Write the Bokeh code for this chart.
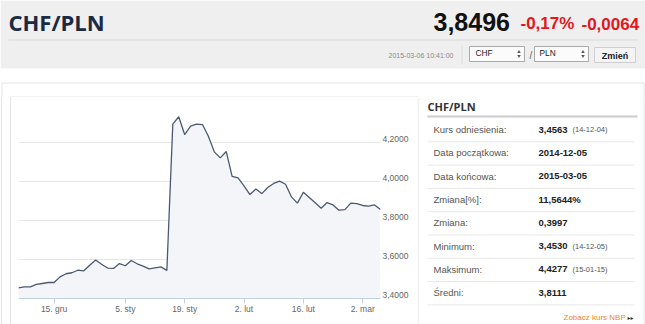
from bokeh.plotting import figure
from bokeh.layouts import column, row
from bokeh.models import (Range1d, LinearAxis, FixedTicker, Grid, Spacer,
                          CustomJSTickFormatter, ColumnDataSource)
from bokeh.core.properties import value
from bokeh.embed import file_html
from bokeh.resources import INLINE

# ---------------- data ----------------
dates = [
    "2014-12-05", "2014-12-08", "2014-12-09", "2014-12-10", "2014-12-11", "2014-12-12",
    "2014-12-15", "2014-12-16", "2014-12-17", "2014-12-18", "2014-12-19",
    "2014-12-22", "2014-12-23", "2014-12-24", "2014-12-29", "2014-12-30", "2014-12-31",
    "2015-01-02", "2015-01-05", "2015-01-06", "2015-01-07", "2015-01-08", "2015-01-09",
    "2015-01-12", "2015-01-13", "2015-01-14", "2015-01-15", "2015-01-16",
    "2015-01-19", "2015-01-20", "2015-01-21", "2015-01-22", "2015-01-23",
    "2015-01-26", "2015-01-27", "2015-01-28", "2015-01-29", "2015-01-30",
    "2015-02-02", "2015-02-03", "2015-02-04", "2015-02-05", "2015-02-06",
    "2015-02-09", "2015-02-10", "2015-02-11", "2015-02-12", "2015-02-13",
    "2015-02-16", "2015-02-17", "2015-02-18", "2015-02-19", "2015-02-20",
    "2015-02-23", "2015-02-24", "2015-02-25", "2015-02-26", "2015-02-27",
    "2015-03-02", "2015-03-03", "2015-03-04", "2015-03-05",
]
rates = [
    3.455, 3.460, 3.460, 3.472, 3.477, 3.482, 3.482, 3.511, 3.527, 3.532,
    3.545, 3.542, 3.571, 3.597, 3.576, 3.556, 3.554, 3.579, 3.568, 3.595,
    3.578, 3.566, 3.552, 3.557, 3.562, 3.544, 4.294, 4.332, 4.241, 4.284,
    4.294, 4.292, 4.232, 4.152, 4.121, 4.154, 4.026, 4.019, 3.978, 3.933,
    3.962, 3.938, 3.969, 3.990, 4.002, 3.986, 3.921, 3.889, 3.945, 3.918,
    3.891, 3.863, 3.892, 3.880, 3.853, 3.856, 3.889, 3.887, 3.877, 3.874,
    3.880, 3.856,
]
x_tick_dates = ["2014-12-15", "2015-01-05", "2015-01-19", "2015-02-02", "2015-02-16", "2015-03-02"]
x_tick_labels = ["15. gru", "5. sty", "19. sty", "2. lut", "16. lut", "2. mar"]
y_ticks = [3.4, 3.6, 3.8, 4.0, 4.2, 4.4]
y_tick_labels = ["3,4000", "3,6000", "3,8000", "4,0000", "4,2000", ""]

pair = "CHF/PLN"
last_rate = "3,8496"
change_pct = "-0,17%"
change_abs = "-0,0064"
timestamp = "2015-03-06 10:41:00"
base_ccy = "CHF"
quote_ccy = "PLN"
button_label = "Zmień"

stat_labels = ["Kurs odniesienia:", "Data początkowa:", "Data końcowa:", "Zmiana[%]:",
               "Zmiana:", "Minimum:", "Maksimum:", "Średni:"]
stat_values = ["3,4563", "2014-12-05", "2015-03-05", "11,5644%", "0,3997",
               "3,4530", "4,4277", "3,8111"]
stat_notes = ["(14-12-04)", "", "", "", "", "(14-12-05)", "(15-01-15)", ""]
nbp_link = "Zobacz kurs NBP"

SANS = value("Liberation Sans")
OPEN = value("Open Sans")
BORDER = "#e4e4e4"
LOW_H = 227


def blank(width, height, x0, x1, y0, y1):
    f = figure(width=width, height=height, x_range=Range1d(x0, x1), y_range=Range1d(y1, y0),
               toolbar_location=None, output_backend="svg", min_border=0,
               x_axis_location=None, y_axis_location=None)
    f.outline_line_color = None
    f.background_fill_color = "white"
    f.border_fill_color = "white"
    for g in f.grid:
        g.visible = False
    return f


def vband(width, color):
    return Spacer(width=width, height=LOW_H, styles={"background-color": color})


# ---------------- header ----------------
hdr = blank(645, 97, 0, 645, 0, 97)
hdr.quad(left=[0], right=[645], top=[0], bottom=[68], fill_color="#efefef", line_color=None)
hdr.segment(x0=[8], y0=[39.5], x1=[637], y1=[39.5], line_color="#d9d9d9", line_width=1)
hdr.text(x=[8], y=[21], text=[pair], text_font=OPEN, text_font_size="22px",
         text_font_style="bold", text_color="#1b2a44", text_baseline="middle")
hdr.text(x=[433], y=[21], text=[last_rate], text_font=SANS, text_font_size="25px",
         text_font_style="bold", text_color="#111111", text_baseline="middle")
hdr.text(x=[520, 581], y=[23, 23], text=[change_pct, change_abs], text_font=SANS,
         text_font_size="17px", text_font_style="bold", text_color="#e3161d",
         text_baseline="middle")
hdr.text(x=[388], y=[54.5], text=[timestamp], text_font=SANS, text_font_size="7px",
         text_color="#8a8a8a", text_baseline="middle")
hdr.segment(x0=[461.5], y0=[45], x1=[461.5], y1=[64], line_color="#dcdcdc")
# select boxes
hdr.quad(left=[469, 534], right=[524, 588], top=[46, 46], bottom=[61, 61],
         fill_color="#fbfbfb", line_color="#a9a9a9", line_width=1)
hdr.text(x=[475, 539], y=[52, 52], text=[base_ccy, quote_ccy], text_font=SANS,
         text_font_size="8.3px", text_color="#222222", text_baseline="middle")
hdr.scatter(x=[518.5, 582.5], y=[51.5, 51.5], marker="triangle", size=3.5,
            fill_color="#555555", line_color=None)
hdr.scatter(x=[518.5, 582.5], y=[55.5, 55.5], marker="inverted_triangle", size=3.5,
            fill_color="#555555", line_color=None)
hdr.text(x=[529], y=[55], text=["/"], text_font=SANS, text_font_size="10px",
         text_color="#666666", text_baseline="middle")
hdr.quad(left=[594], right=[635], top=[47], bottom=[62], fill_color="#f4f4f4",
         line_color="#cfcfcf")
hdr.text(x=[614.5], y=[55], text=[button_label], text_font=SANS, text_font_size="9px",
         text_font_style="bold", text_color="#222222", text_baseline="middle",
         text_align="center")
# container and chart box borders
hdr.segment(x0=[1.5, 1.5, 643.5, 10.5], y0=[82.5, 82.5, 82.5, 96.5],
            x1=[643.5, 1.5, 643.5, 417.5], y1=[82.5, 97, 97, 96.5],
            line_color=BORDER, line_width=1)

# ---------------- left strip (borders) ----------------
left_strip = [vband(1, "white"), vband(1, BORDER), vband(8, "white"),
              vband(1, BORDER), vband(7, "white")]

# ---------------- chart ----------------
idx = list(range(len(dates)))
src = ColumnDataSource(dict(i=idx, rate=rates))
x_tick_idx = [dates.index(d) for d in x_tick_dates]

FRAME_H = 195
label_shift = 4.0 * (y_ticks[-1] - y_ticks[0]) / FRAME_H

chart = figure(width=399, height=LOW_H, x_range=Range1d(idx[0], idx[-1]),
               y_range=Range1d(y_ticks[0], y_ticks[-1]),
               toolbar_location=None, output_backend="svg",
               min_border_left=0, min_border_right=37, min_border_top=6,
               min_border_bottom=26, y_axis_location=None)
chart.outline_line_color = None
chart.background_fill_color = "white"
chart.border_fill_color = "white"
for g in chart.grid:
    g.visible = False
chart.add_layout(Grid(dimension=1, ticker=FixedTicker(ticks=y_ticks),
                      grid_line_color="#e6e6e6", grid_line_width=1))

chart.varea(x="i", y1=y_ticks[0], y2="rate", source=src, fill_color="#f3f5f8")
chart.line(x="i", y="rate", source=src, line_color="#4b5970", line_width=1.3)

fmt_code = """
let best = -1, bd = 1e9;
for (let k = 0; k < tvals.length; k++) {
  const d = Math.abs(tvals[k] - tick);
  if (d < bd) { bd = d; best = k; }
}
return bd < 1e-6 ? tlabels[best] : "";
"""
xa = chart.xaxis[0]
xa.ticker = FixedTicker(ticks=x_tick_idx)
xa.formatter = CustomJSTickFormatter(args=dict(tvals=x_tick_idx, tlabels=x_tick_labels),
                                     code=fmt_code)
xa.axis_line_color = "#c0d0e0"
xa.major_tick_line_color = "#c0d0e0"
xa.major_tick_out = 5
xa.major_tick_in = 0
xa.minor_tick_line_color = None
xa.major_label_standoff = 0
xa.major_label_text_font = "Liberation Sans"
xa.major_label_text_font_size = "8.5px"
xa.major_label_text_color = "#666666"

chart.extra_y_ranges = {"lab": Range1d(y_ticks[0] - label_shift, y_ticks[-1] - label_shift)}
ya = LinearAxis(y_range_name="lab", ticker=FixedTicker(ticks=y_ticks),
                formatter=CustomJSTickFormatter(args=dict(tvals=y_ticks, tlabels=y_tick_labels),
                                                code=fmt_code))
ya.axis_line_color = None
ya.major_tick_line_color = None
ya.minor_tick_line_color = None
ya.major_tick_out = 0
ya.major_tick_in = 0
ya.major_label_standoff = 2
ya.major_label_text_font = "Liberation Sans"
ya.major_label_text_font_size = "8.5px"
ya.major_label_text_color = "#666666"
chart.add_layout(ya, "right")

# ---------------- stats table ----------------
tab = blank(228, LOW_H, 417, 645, 97, 324)
tab.segment(x0=[417.5, 643.5], y0=[97, 97], x1=[417.5, 643.5], y1=[324, 324],
            line_color=BORDER, line_width=1)
tab.text(x=[427], y=[105.5], text=[pair], text_font=OPEN, text_font_size="11px",
         text_font_style="bold", text_color="#333333", text_baseline="middle")
tab.segment(x0=[427], y0=[116], x1=[637], y1=[116], line_color="#cccccc", line_width=2)

ROW0, PITCH = 129.0, 23.3
row_y = [ROW0 + PITCH * k for k in range(len(stat_labels))]
sep_y = [y + 12.3 for y in row_y]
tsrc = ColumnDataSource(dict(y=row_y, lab=stat_labels, val=stat_values, note=stat_notes))
tab.segment(x0=[427] * len(sep_y), y0=sep_y, x1=[634] * len(sep_y), y1=sep_y,
            line_color="#e8e8e8", line_width=1)
tab.text(x=433, y="y", text="lab", source=tsrc, text_font=SANS, text_font_size="9.5px",
         text_color="#555555", text_baseline="middle")
tab.text(x=538, y="y", text="val", source=tsrc, text_font=SANS, text_font_size="9.5px",
         text_font_style="bold", text_color="#222222", text_baseline="middle")
tab.text(x=572, y="y", text="note", source=tsrc, text_font=SANS, text_font_size="7.5px",
         text_color="#555555", text_baseline="middle")
tab.text(x=[563], y=[317], text=[nbp_link], text_font=SANS, text_font_size="8px",
         text_color="#f5842a", text_baseline="middle")
tab.text(x=[627], y=[317], text=["▸▸"], text_font=value("DejaVu Sans"), text_font_size="6px",
         text_color="#333333", text_baseline="middle")

layout = column(hdr, row(*left_strip, chart, column(tab)))
open("out.html", "w").write(file_html(layout, INLINE))
